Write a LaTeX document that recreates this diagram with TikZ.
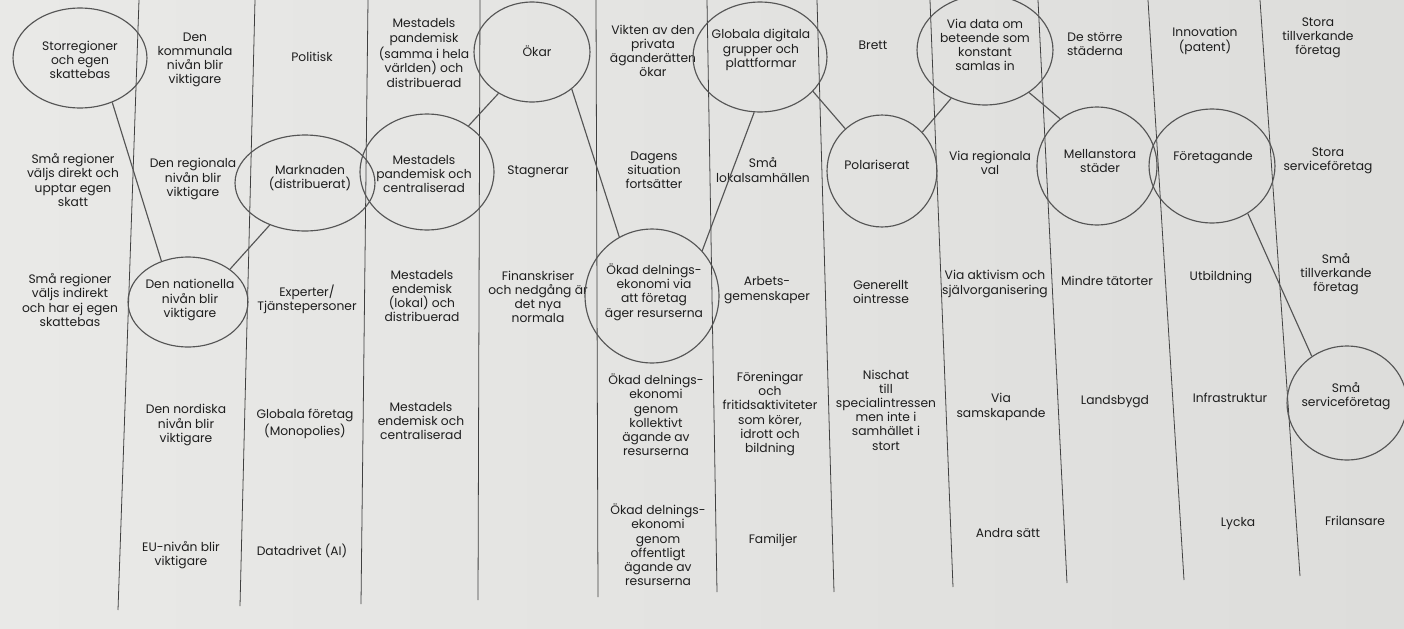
\documentclass[tikz,border=0pt]{standalone}
\usepackage{fontspec}
\setmainfont{Poppins}
\usetikzlibrary{shapes.geometric}
\definecolor{paperL}{RGB}{233,233,231}
\definecolor{paperR}{RGB}{221,221,219}
\definecolor{ink}{RGB}{30,30,30}
\definecolor{pencil}{RGB}{85,85,85}
\begin{document}
\begin{tikzpicture}[x=0.02cm,y=-0.02cm]

\tikzset{
	cell/.style={align=center,text=ink,inner sep=0,font=\fontsize{7}{8.1}\selectfont},
	ring/.style 2 args={draw=pencil,ellipse,line width=0.65pt,inner sep=0,
	minimum width=#1*0.04cm,minimum height=#2*0.04cm},
	link/.style={draw=pencil,line width=0.65pt},
	rule/.style={draw=ink!85,line width=0.45pt}
	}
        %PAPER
        \useasboundingbox (0,0) rectangle (1404,629);
        \fill[left color=paperL,right color=paperR] (0,0) rectangle (1404,629);
        %COLUMN RULES
        \foreach \xt/\xb/\yb in {139/118/610,255/240/606,368/361/604,480/478/600,596/598/597,
          707/717/592,817/834/592,930/953/587,1038/1067/583,1148/1184/580,1260/1300/576}
          \draw[rule] (\xt,0) -- (\xb,\yb);

        %col 1
        \node[cell] (storreg) at (80,60) {Storregioner\\och egen\\skattebas};
        \node[cell] (smaDirekt) at (73,180) {Små regioner\\väljs direkt och\\upptar egen\\skatt};
        \node[cell] (smaIndirekt) at (70,300) {Små regioner\\väljs indirekt\\och har ej egen\\skattebas};
        %col 2
        \node[cell] (kommunal) at (195,60) {Den\\kommunala\\nivån blir\\viktigare};
        \node[cell] (regional) at (193,179) {Den regionala\\nivån blir\\viktigare};
        \node[cell] (nationell) at (190,300) {Den nationella\\nivån blir\\viktigare};
        \node[cell] (nordisk) at (186,425) {Den nordiska\\nivån blir\\viktigare};
        \node[cell] (eu) at (181,555) {EU-nivån blir\\viktigare};
        %col 3
        \node[cell] (politisk) at (312,57) {Politisk};
        \node[cell] (marknad) at (310,178) {Marknaden\\(distribuerat)};
        \node[cell] (experter) at (307,299) {Experter/\\Tjänstepersoner};
        \node[cell] (globForetag) at (305,424) {Globala företag\\(Monopolies)};
        \node[cell] (datadrivet) at (302,551) {Datadrivet (AI)};
        %col 4
        \node[cell] (pandDist) at (424,53) {Mestadels\\pandemisk\\(samma i hela\\världen) och\\distribuerad};
        \node[cell] (pandCent) at (424,174) {Mestadels\\pandemisk och\\centraliserad};
        \node[cell] (endDist) at (422,296) {Mestadels\\endemisk\\(lokal) och\\distribuerad};
        \node[cell] (endCent) at (421,421) {Mestadels\\endemisk och\\centraliserad};
        %col 5
        \node[cell] (okar) at (537,51) {Ökar};
        \node[cell] (stagnerar) at (538,172) {Stagnerar};
        \node[cell] (finanskris) at (538,297) {Finanskriser\\och nedgång är\\det nya\\normala};
        %col 6
        \node[cell] (privat) at (653,51) {Vikten av den\\privata\\äganderätten\\ökar};
        \node[cell] (dagens) at (654,170) {Dagens\\situation\\fortsätter};
        \node[cell] (delForetag) at (654,292) {Ökad delnings-\\ekonomi via\\att företag\\äger resurserna};
        \node[cell] (delKollektiv) at (656,415) {Ökad delnings-\\ekonomi\\genom\\kollektivt\\ägande av\\resurserna};
        \node[cell] (delOffentlig) at (658,545) {Ökad delnings-\\ekonomi\\genom\\offentligt\\ägande av\\resurserna};
        %col 7
        \node[cell] (globDigital) at (761,50) {Globala digitala\\grupper och\\plattformar};
        \node[cell] (lokalsamh) at (763,170) {Små\\lokalsamhällen};
        \node[cell] (arbets) at (767,290) {Arbets-\\gemenskaper};
        \node[cell] (foreningar) at (770,414) {Föreningar\\och\\fritidsaktiviteter\\som körer,\\idrott och\\bildning};
        \node[cell] (familjer) at (773,540) {Familjer};
        %col 8
        \node[cell] (brett) at (873,45) {Brett};
        \node[cell] (polar) at (877,165) {Polariserat};
        \node[cell] (ointresse) at (881,292) {Generellt\\ointresse};
        \node[cell] (nischat) at (886,410) {Nischat\\till\\specialintressen\\men inte i\\samhället i\\stort};
        %col 9
        \node[cell] (viaData) at (985,45) {Via data om\\beteende som\\konstant\\samlas in};
        \node[cell] (viaVal) at (990,163) {Via regionala\\val};
        \node[cell] (viaAktiv) at (995,284) {Via aktivism och\\självorganisering};
        \node[cell] (viaSam) at (1001,407) {Via\\samskapande};
        \node[cell] (andra) at (1008,533) {Andra sätt};
        %col 10
        \node[cell] (storStad) at (1095,44) {De större\\städerna};
        \node[cell] (mellStad) at (1100,161) {Mellanstora\\städer};
        \node[cell] (tatort) at (1107,281) {Mindre tätorter};
        \node[cell] (landsbygd) at (1115,402) {Landsbygd};
        %col 11
        \node[cell] (innovation) at (1205,41) {Innovation\\(patent)};
        \node[cell] (foretagande) at (1213,158) {Företagande};
        \node[cell] (utbildning) at (1221,277) {Utbildning};
        \node[cell] (infra) at (1230,398) {Infrastruktur};
        \node[cell] (lycka) at (1238,524) {Lycka};
        %col 12
        \node[cell] (storaTillv) at (1318,38) {Stora\\tillverkande\\företag};
        \node[cell] (storaServ) at (1328,161) {Stora\\serviceföretag};
        \node[cell] (smaTillv) at (1336,274) {Små\\tillverkande\\företag};
        \node[cell] (smaServ) at (1346,396) {Små\\serviceföretag};
        \node[cell] (frilans) at (1355,521) {Frilansare};

        %CIRCLES
        \node[ring={67}{50}] (rStorreg) at (80,58) {};
        \node[ring={60}{45}] (rNationell) at (188,302) {};
        \node[ring={70}{48}] (rMarknad) at (305,183) {};
        \node[ring={67}{58}] (rPandCent) at (427,172) {};
        \node[ring={58}{50}] (rOkar) at (532,52) {};
        \node[ring={67}{67}] (rDelForetag) at (652,296) {};
        \node[ring={67}{55}] (rGlobDigital) at (760,57) {};
        \node[ring={55}{56}] (rPolar) at (882,171) {};
        \node[ring={68}{55}] (rViaData) at (985,50) {};
        \node[ring={60}{59}] (rMellStad) at (1097,166) {};
        \node[ring={63}{57}] (rForetagande) at (1212,166) {};
        \node[ring={60}{57}] (rSmaServ) at (1347,403) {};
        %LINKS
        \draw[link] (rStorreg.-54) -- (rNationell.123);
        \draw[link] (rNationell.38) -- (rMarknad.230);
        \draw[link] (rPandCent.48) -- (rOkar.231);
        \draw[link] (rOkar.-43) -- (rDelForetag.119);
        \draw[link] (rDelForetag.42) -- (rGlobDigital.264);
        \draw[link] (rGlobDigital.-33) -- (rPolar.131);
        \draw[link] (rPolar.44) -- (rViaData.235);
        \draw[link] (rViaData.-44) -- (rMellStad.128);
        \draw[link] (rForetagande.-53) -- (rSmaServ.127);
    \end{tikzpicture}
\end{document}
